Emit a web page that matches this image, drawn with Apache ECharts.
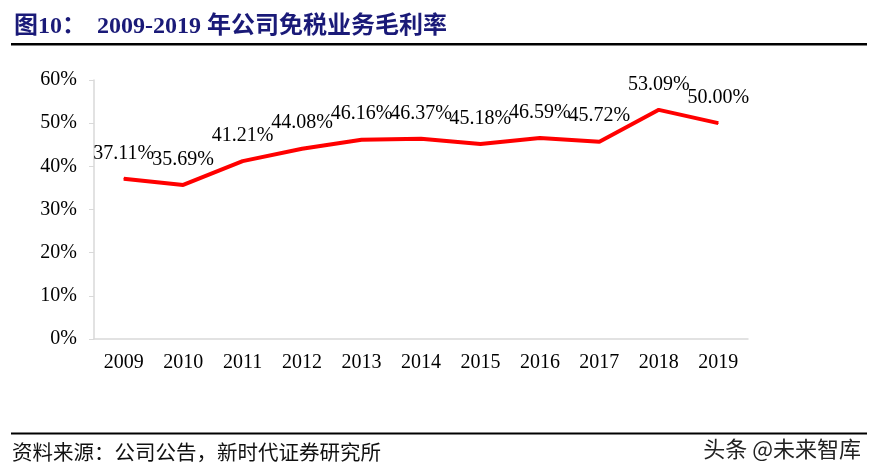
<!DOCTYPE html>
<html><head><meta charset="utf-8">
<script src="https://cdn.jsdelivr.net/npm/echarts@6/dist/echarts.min.js"></script>
<style>html,body{margin:0;padding:0;background:#fff}#c{width:875px;height:476px}</style>
</head><body><div id="c"></div>
<script>
const years = ['2009','2010','2011','2012','2013','2014','2015','2016','2017','2018','2019'];
const margin = [37.11,35.69,41.21,44.08,46.16,46.37,45.18,46.59,45.72,53.09,50.00];
const yTicks = [0,10,20,30,40,50,60];

const chart = echarts.init(document.getElementById('c'));
chart.setOption({
  animation:false,
  backgroundColor:'#fff',
  grid:{left:94,right:127,top:80,bottom:137},
  xAxis:{type:'category',data:years,boundaryGap:true,
    axisLine:{lineStyle:{color:'#d9d9d9',width:1.5}},
    axisTick:{show:false},
    axisLabel:{color:'#000',fontFamily:'Liberation Serif',fontSize:20,margin:14}},
  yAxis:{type:'value',min:yTicks[0],max:yTicks[yTicks.length-1],interval:10,
    axisLine:{show:true,lineStyle:{color:'#d9d9d9',width:1.5}},
    axisTick:{show:true,length:5,lineStyle:{color:'#d9d9d9'}},
    splitLine:{show:false},
    axisLabel:{color:'#000',fontFamily:'Liberation Serif',fontSize:20,margin:17,formatter:'{value}%'}},
  series:[{type:'line',data:margin,symbol:'circle',symbolSize:1,showSymbol:true,
    itemStyle:{color:'#ff0000'},
    lineStyle:{color:'#ff0000',width:4},
    label:{show:true,position:'top',distance:15,color:'#000',fontFamily:'Liberation Serif',fontSize:20,
      formatter:p=>p.value.toFixed(2)+'%'}}],
  graphic:[
    {type:'text',left:14,top:15,style:{text:'图10：',fill:'#1a1a78',font:'bold 24px "Liberation Serif","Noto Sans CJK SC",serif'}},
    {type:'text',left:97,top:15,style:{text:'2009-2019 年公司免税业务毛利率',fill:'#1a1a78',font:'bold 24px "Liberation Serif","Noto Sans CJK SC",serif'}},
    {type:'rect',shape:{x:11,y:43,width:856,height:2.5},style:{fill:'#000'}},
    {type:'rect',shape:{x:11,y:432.5,width:856,height:2},style:{fill:'#000'}},
    {type:'text',left:12,top:442,style:{text:'资料来源：公司公告，新时代证券研究所',fill:'#111',font:'20.5px "Noto Sans CJK SC",serif'}},
    {type:'text',right:14,top:438,style:{text:'头条 @未来智库',fill:'#222',font:'22px "Noto Sans CJK SC",sans-serif'}}
  ]
});
</script></body></html>
